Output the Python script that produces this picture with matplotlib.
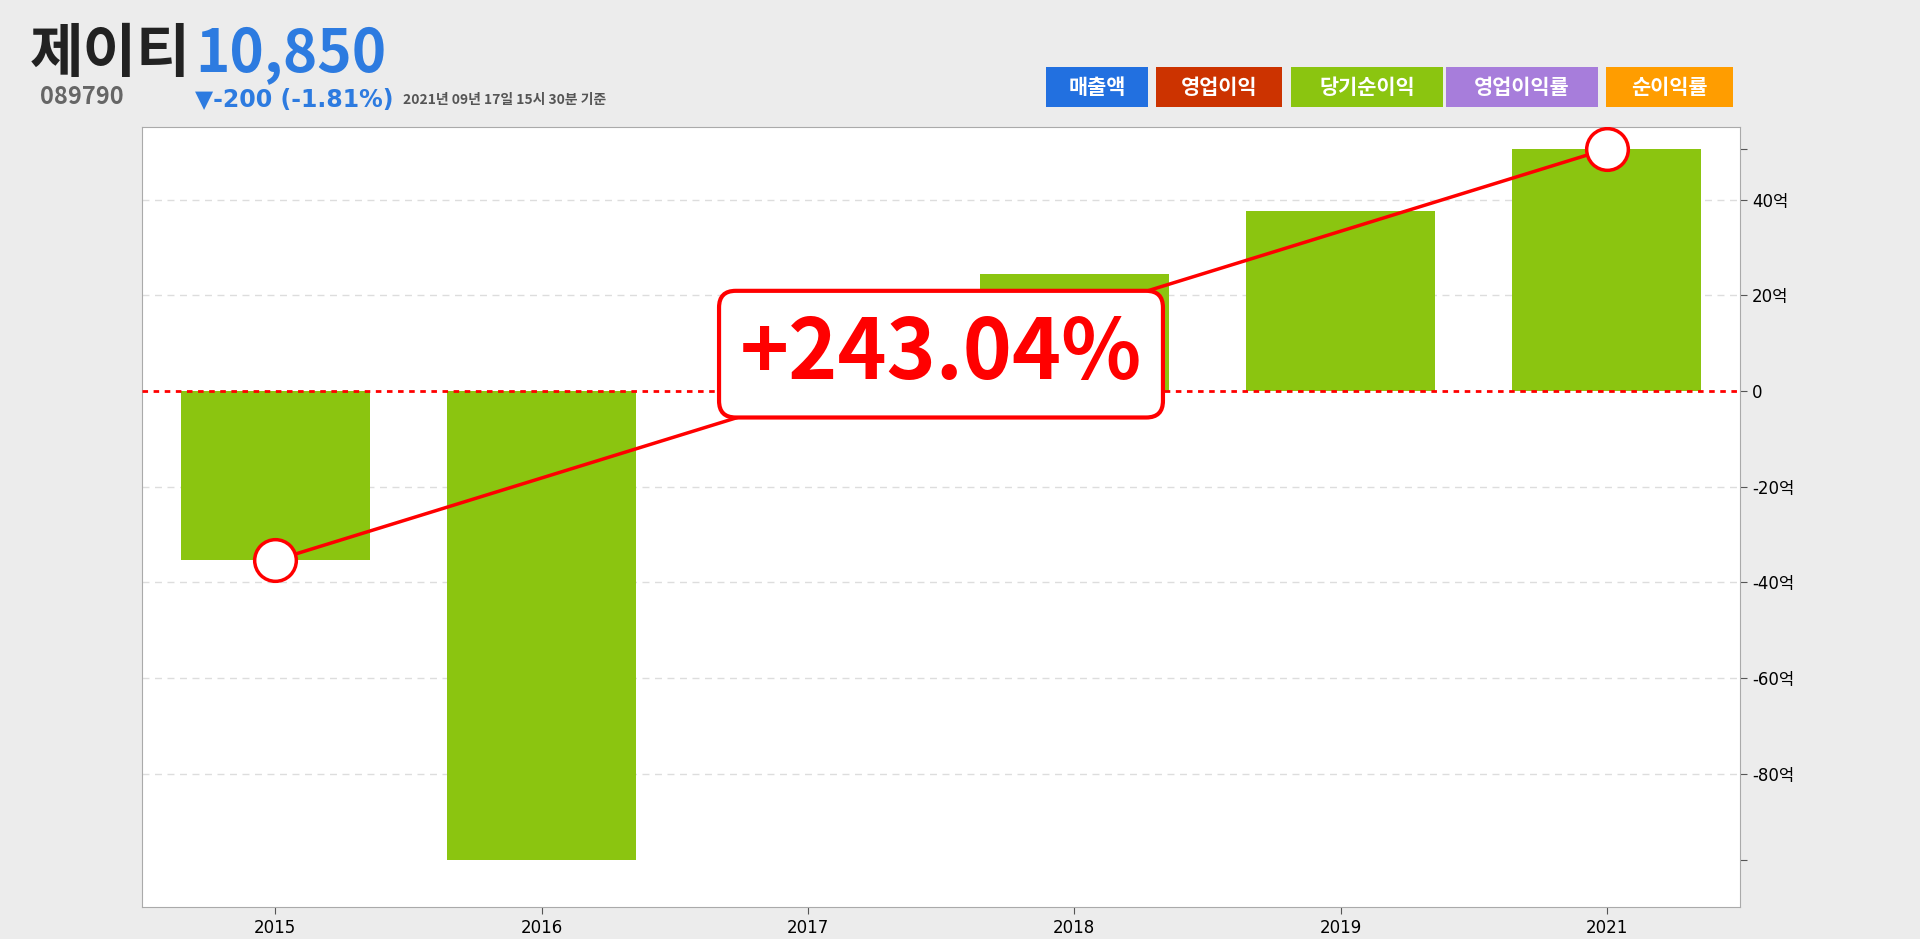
import matplotlib
matplotlib.use("Agg")
import matplotlib.pyplot as plt
from matplotlib.patches import Rectangle

plt.rcParams['font.family'] = ['Noto Sans CJK KR', 'DejaVu Sans']

years = ['2015', '2016', '2017', '2018', '2019', '2021']
net_income = [-35.4, -98.1, 0.0, 24.5, 37.7, 50.6]
yticks = [-80, -60, -40, -20, 0, 20, 40]
ytick_labels = ['-80억', '-60억', '-40억', '-20억', '0', '20억', '40억']
legend_items = ['매출액', '영업이익', '당기순이익', '영업이익률', '순이익률']
legend_colors = ['#2270e0', '#cc3300', '#8bc510', '#a77ddb', '#ff9d00']
growth_text = '+243.04%'

fig = plt.figure(figsize=(19.2, 9.39), dpi=100, facecolor='#ececec')
ax = fig.add_axes([142/1920, 1-907/939, (1740-142)/1920, (907-127)/939])
ax.set_facecolor('white')
x = list(range(len(years)))
ax.bar(x, net_income, width=0.71, color='#8bc510', zorder=2)
ax.set_xlim(-0.5, len(years)-0.5)
ax.set_ylim(-107.9, 55.2)
ax.yaxis.tick_right()
ax.set_yticks(yticks + [min(net_income), max(net_income)])
ax.set_yticklabels(ytick_labels + ['', ''], fontsize=12, family=['DejaVu Sans', 'Noto Sans CJK KR'])
ax.set_xticks(x)
ax.set_xticklabels(years, fontsize=12, family='DejaVu Sans')
for t in yticks:
    if t != 0:
        ax.axhline(t, color='#dddddd', ls=(0, (5, 4)), lw=1, zorder=1)
ax.axhline(0, color='red', ls=(0, (2, 2)), lw=2, zorder=3)
for s in ax.spines.values():
    s.set_color('#aaaaaa')
ax.tick_params(colors='#555555', labelcolor='black', length=5)

x0, x1 = 0, len(years)-1
ax.plot([x0, x1], [net_income[x0], net_income[x1]], color='red', lw=2.5, zorder=4)
ax.plot([x0, x1], [net_income[x0], net_income[x1]], 'o', ms=30, mfc='white', mec='red', mew=2.5, zorder=5)
ax.text(2.5, 7.7, growth_text, fontsize=60, fontweight='bold', color='red', ha='center', va='center',
        zorder=6, family=['Noto Sans CJK KR', 'DejaVu Sans'],
        bbox=dict(boxstyle='round,pad=0.25,rounding_size=0.2', fc='white', ec='red', lw=3))

fig.text(30/1920, 1-55/939, '제이티', fontsize=42, fontweight='bold', color='#222222', va='center')
fig.text(195/1920, 1-55/939, '10,850', fontsize=42, fontweight='bold', color='#2d7be0', va='center')
fig.text(40/1920, 1-97/939, '089790', fontsize=17, fontweight='bold', color='#666666', va='center')
fig.text(195/1920, 1-100/939, '▼-200 (-1.81%)', fontsize=17, fontweight='bold', color='#2d7be0', va='center',
         family=['DejaVu Sans', 'Noto Sans CJK KR'])
fig.text(403/1920, 1-100/939, '2021년 09년 17일 15시 30분 기준', fontsize=10, fontweight='bold', color='#555555', va='center')

lx = [1046, 1156, 1291, 1446, 1606]
lw_ = [102, 126, 152, 152, 127]
for xx, ww, lab, c in zip(lx, lw_, legend_items, legend_colors):
    fig.patches.append(Rectangle((xx/1920, 1-107/939), ww/1920, 40/939, transform=fig.transFigure,
                                 facecolor=c, edgecolor='none'))
    fig.text((xx+ww/2)/1920, 1-87/939, lab, fontsize=15, fontweight='bold', color='white', ha='center', va='center')

fig.savefig('out.png', dpi=100, facecolor=fig.get_facecolor())
